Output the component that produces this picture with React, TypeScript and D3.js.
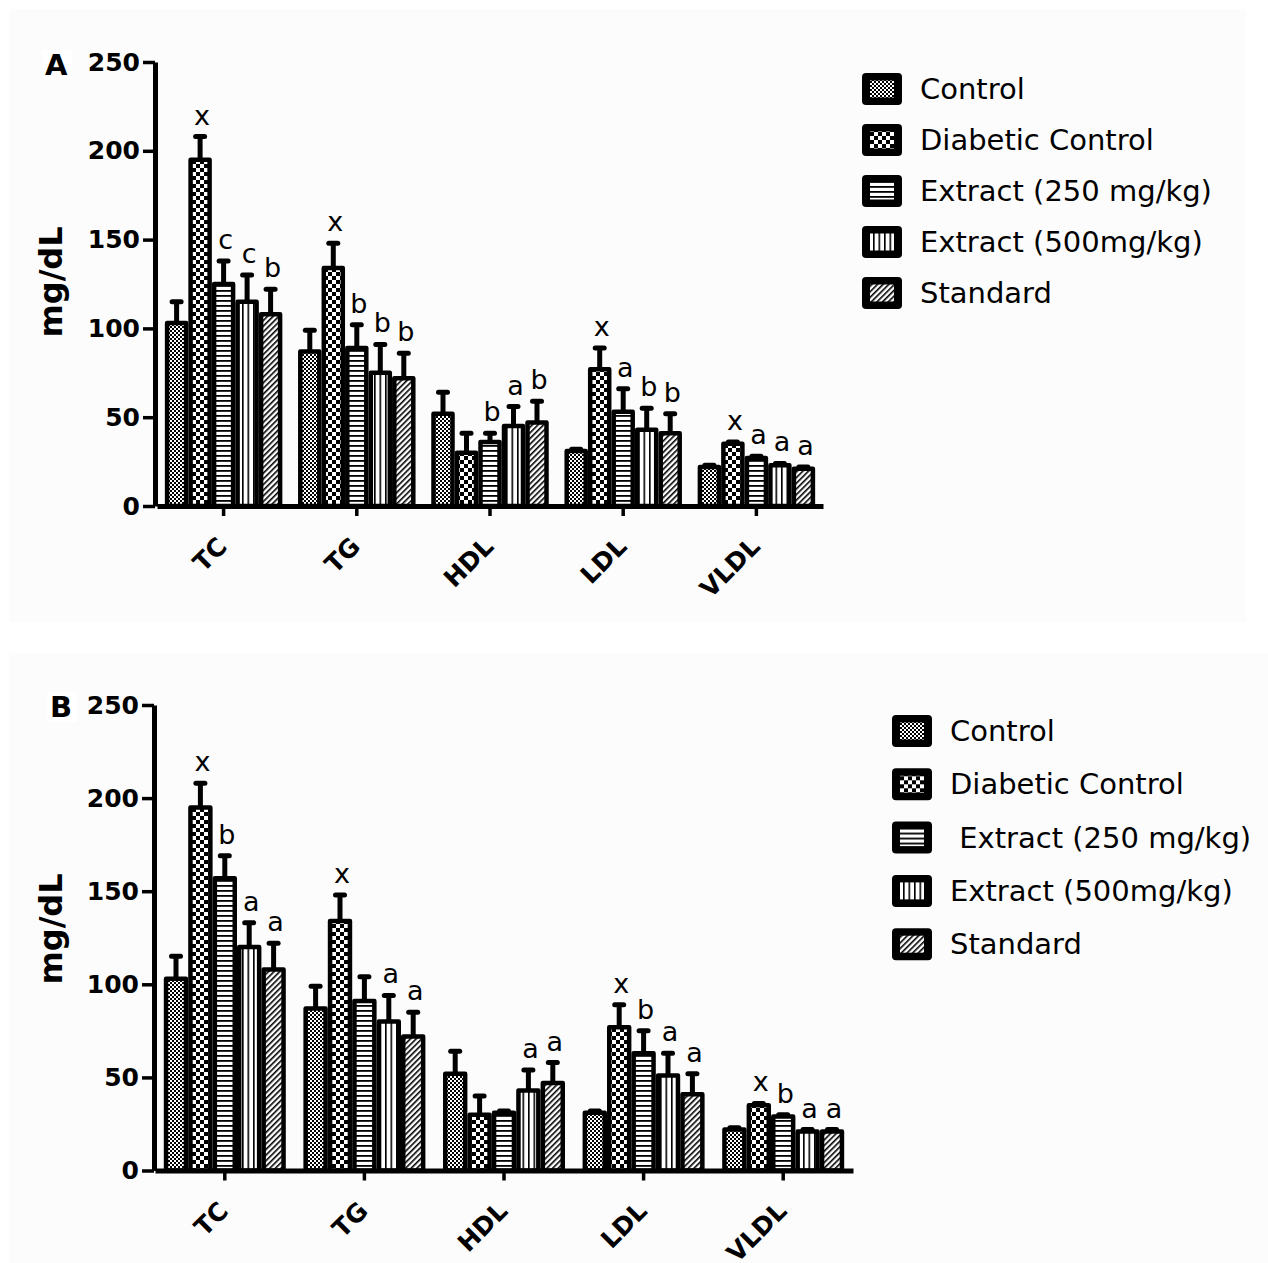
import { useEffect, useRef } from "react";
import * as d3 from "d3";

const categories = ["TC", "TG", "HDL", "LDL", "VLDL"];
const legendA = ["Control", "Diabetic Control", "Extract (250 mg/kg)", "Extract (500mg/kg)", "Standard"];
const legendB = ["Control", "Diabetic Control", " Extract (250 mg/kg)", "Extract (500mg/kg)", "Standard"];
const yTicks = [0, 50, 100, 150, 200, 250];

// panel A: means, SEM and significance letters per group
const controlA = [103, 87, 52, 31, 22];
const diabeticA = [195, 134, 30, 77, 35];
const ext250A = [125, 89, 36, 53, 27];
const ext500A = [115, 75, 45, 43, 23];
const standardA = [108, 72, 47, 41, 21];
const controlSemA = [12, 12, 12, 1, 1];
const diabeticSemA = [13, 14, 11, 12, 1];
const ext250SemA = [13, 13, 5, 13, 1];
const ext500SemA = [15, 16, 11, 12, 1];
const standardSemA = [14, 14, 12, 11, 1];
const controlLetA = ["", "", "", "", ""];
const diabeticLetA = ["x", "x", "", "x", "x"];
const ext250LetA = ["c", "b", "b", "a", "a"];
const ext500LetA = ["c", "b", "a", "b", "a"];
const standardLetA = ["b", "b", "b", "b", "a"];

// panel B
const controlB = [103, 87, 52, 31, 22];
const diabeticB = [195, 134, 30, 77, 35];
const ext250B = [157, 91, 31, 63, 29];
const ext500B = [120, 80, 43, 51, 21];
const standardB = [108, 72, 47, 41, 21];
const controlSemB = [12, 12, 12, 1, 1];
const diabeticSemB = [13, 14, 10, 12, 1];
const ext250SemB = [12, 13, 1, 12, 1];
const ext500SemB = [13, 14, 11, 12, 1];
const standardSemB = [14, 13, 11, 11, 1];
const controlLetB = ["", "", "", "", ""];
const diabeticLetB = ["x", "x", "", "x", "x"];
const ext250LetB = ["b", "", "", "b", "b"];
const ext500LetB = ["a", "a", "a", "a", "a"];
const standardLetB = ["a", "a", "a", "a", "a"];

const FONT = "DejaVu Sans, Arial, sans-serif";

const App = () => {
  const ref = useRef(null);

  useEffect(() => {
    if (!ref.current) return;
    const svg = d3.select(ref.current);
    svg.selectAll("*").remove();

    const defs = svg.append("defs");
    // fine checker (Control)
    const p0 = defs.append("pattern").attr("id", "pat0").attr("patternUnits", "userSpaceOnUse").attr("width", 4).attr("height", 4);
    p0.append("rect").attr("width", 4).attr("height", 4).attr("fill", "#fff");
    p0.append("rect").attr("width", 2).attr("height", 2).attr("fill", "#000");
    p0.append("rect").attr("x", 2).attr("y", 2).attr("width", 2).attr("height", 2).attr("fill", "#000");
    // coarse checker (Diabetic)
    const p1 = defs.append("pattern").attr("id", "pat1").attr("patternUnits", "userSpaceOnUse").attr("width", 8).attr("height", 8);
    p1.append("rect").attr("width", 8).attr("height", 8).attr("fill", "#fff");
    p1.append("rect").attr("width", 4).attr("height", 4).attr("fill", "#000");
    p1.append("rect").attr("x", 4).attr("y", 4).attr("width", 4).attr("height", 4).attr("fill", "#000");
    // horizontal lines
    const p2 = defs.append("pattern").attr("id", "pat2").attr("patternUnits", "userSpaceOnUse").attr("width", 5).attr("height", 5);
    p2.append("rect").attr("width", 5).attr("height", 5).attr("fill", "#fff");
    p2.append("rect").attr("width", 5).attr("height", 1.8).attr("fill", "#000");
    // vertical lines
    const p3 = defs.append("pattern").attr("id", "pat3").attr("patternUnits", "userSpaceOnUse").attr("width", 5.5).attr("height", 5);
    p3.append("rect").attr("width", 5.5).attr("height", 5).attr("fill", "#fff");
    p3.append("rect").attr("width", 1.6).attr("height", 5).attr("fill", "#000");
    // diagonal hatch
    const p4 = defs.append("pattern").attr("id", "pat4").attr("patternUnits", "userSpaceOnUse").attr("width", 4).attr("height", 4).attr("patternTransform", "rotate(45)");
    p4.append("rect").attr("width", 4).attr("height", 4).attr("fill", "#fff");
    p4.append("rect").attr("width", 1.6).attr("height", 4).attr("fill", "#000");

    const drawPanel = (p: any) => {
      const g = svg.append("g");
      g.append("rect").attr("x", p.bg[0]).attr("y", p.bg[1]).attr("width", p.bg[2]).attr("height", p.bg[3]).attr("fill", "#fcfcfc");

      const y = d3.scaleLinear().domain([0, 250]).range([p.y0, p.y1]);
      const x0 = d3.scaleBand().domain(categories).range(p.xr);
      const x1 = d3.scaleBand().domain(d3.range(5).map(String)).range([-2.5 * p.step, 2.5 * p.step]);
      const bw = p.step - 4.5;

      const recs: any[] = [];
      p.series.forEach((s: any, si: number) => {
        categories.forEach((c, ci) => {
          recs.push({
            si,
            cx: (x0(c) as number) + x0.bandwidth() / 2 + (x1(String(si)) as number) + x1.bandwidth() / 2,
            mean: s.mean[ci],
            sem: s.sem[ci],
            letter: s.letters[ci],
          });
        });
      });

      // error bars (up only)
      g.selectAll(".err").data(recs).join("line")
        .attr("x1", (d) => d.cx).attr("x2", (d) => d.cx)
        .attr("y1", (d) => y(d.mean)).attr("y2", (d) => y(d.mean + d.sem))
        .attr("stroke", "#000").attr("stroke-width", 5);
      g.selectAll(".cap").data(recs).join("line")
        .attr("x1", (d) => d.cx - 4.5).attr("x2", (d) => d.cx + 4.5)
        .attr("y1", (d) => y(d.mean + d.sem)).attr("y2", (d) => y(d.mean + d.sem))
        .attr("stroke", "#000").attr("stroke-width", 5).attr("stroke-linecap", "round");

      g.selectAll(".bar").data(recs).join("rect")
        .attr("x", (d) => d.cx - bw / 2)
        .attr("y", (d) => y(d.mean))
        .attr("width", bw)
        .attr("height", (d) => y(0) - y(d.mean))
        .attr("fill", (d) => `url(#pat${d.si})`)
        .attr("stroke", "#000")
        .attr("stroke-width", 4.5)
        .attr("stroke-linejoin", "round");

      g.selectAll(".let").data(recs.filter((d) => d.letter)).join("text")
        .attr("x", (d) => d.cx + 2)
        .attr("y", (d) => y(d.mean + d.sem) - 12)
        .attr("text-anchor", "middle")
        .attr("font-family", FONT)
        .attr("font-size", 27)
        .attr("fill", "#000")
        .text((d) => d.letter);

      // y axis
      const ya = g.append("g")
        .attr("transform", `translate(${p.ax},0)`)
        .call(d3.axisLeft(y).tickValues(yTicks).tickSize(12).tickPadding(3).tickSizeOuter(0));
      ya.select(".domain").attr("stroke-width", 5);
      ya.selectAll(".tick line").attr("stroke-width", 3.5);
      ya.selectAll(".tick text")
        .attr("font-family", FONT).attr("font-size", 25).attr("font-weight", "bold").attr("fill", "#000");

      // x axis
      const xa = g.append("g")
        .attr("transform", `translate(0,${p.y0})`)
        .call(d3.axisBottom(x0).tickSize(10).tickSizeOuter(0));
      xa.select(".domain").attr("stroke-width", 5);
      xa.selectAll(".tick line").attr("stroke-width", 3.5);
      xa.selectAll(".tick text").remove();
      xa.selectAll(".tick").append("text")
        .attr("transform", "translate(5,42) rotate(-45)")
        .attr("text-anchor", "end")
        .attr("font-family", FONT).attr("font-size", 25).attr("font-weight", "bold").attr("fill", "#000")
        .text((d: any) => d);

      // axis title
      g.append("text")
        .attr("transform", `translate(62,${p.titleY}) rotate(-90)`)
        .attr("text-anchor", "middle")
        .attr("font-family", FONT).attr("font-size", 32).attr("font-weight", "bold")
        .text("mg/dL");

      // panel letter
      g.append("rect").attr("x", p.tag[0] - 3).attr("y", p.tag[1] - 25).attr("width", 30).attr("height", 30).attr("fill", "#fff");
      g.append("text").attr("x", p.tag[0]).attr("y", p.tag[1])
        .attr("font-family", FONT).attr("font-size", 29).attr("font-weight", "bold")
        .text(p.tagText);

      // legend
      const lg = g.selectAll(".leg").data(p.legend).join("g")
        .attr("transform", (_d, i) => `translate(${p.lx},${p.ly + i * p.ldy})`);
      lg.append("rect").attr("x", 0).attr("y", -16).attr("width", 40).attr("height", 32).attr("rx", 4).attr("fill", "#000");
      lg.append("rect").attr("x", 8).attr("y", -8.5).attr("width", 24).attr("height", 17).attr("fill", (_d, i) => `url(#pat${i})`);
      lg.append("text")
        .attr("x", p.ltx - p.lx).attr("y", 0).attr("dy", "0.35em")
        .attr("font-family", FONT).attr("font-size", 29)
        .style("white-space", "pre")
        .text((d: any) => d);
    };

    drawPanel({
      bg: [9, 9, 1237, 613],
      y0: 506, y1: 62, xr: [157, 823], ax: 155, step: 23.5,
      titleY: 282, tag: [45, 75], tagText: "A",
      legend: legendA, lx: 862, ly: 89, ldy: 51, ltx: 920,
      series: [
        { mean: controlA, sem: controlSemA, letters: controlLetA },
        { mean: diabeticA, sem: diabeticSemA, letters: diabeticLetA },
        { mean: ext250A, sem: ext250SemA, letters: ext250LetA },
        { mean: ext500A, sem: ext500SemA, letters: ext500LetA },
        { mean: standardA, sem: standardSemA, letters: standardLetA },
      ],
    });
    drawPanel({
      bg: [9, 653, 1259, 610],
      y0: 1170.5, y1: 705, xr: [155, 853], ax: 154, step: 24.4,
      titleY: 929, tag: [50, 717], tagText: "B",
      legend: legendB, lx: 892, ly: 731, ldy: 53.3, ltx: 950,
      series: [
        { mean: controlB, sem: controlSemB, letters: controlLetB },
        { mean: diabeticB, sem: diabeticSemB, letters: diabeticLetB },
        { mean: ext250B, sem: ext250SemB, letters: ext250LetB },
        { mean: ext500B, sem: ext500SemB, letters: ext500LetB },
        { mean: standardB, sem: standardSemB, letters: standardLetB },
      ],
    });
  }, []);

  return (
    <svg
      ref={ref}
      width={1268}
      height={1263}
      style={{ position: "absolute", left: 0, top: 0, background: "#fff" }}
    ></svg>
  );
};

export default App;
